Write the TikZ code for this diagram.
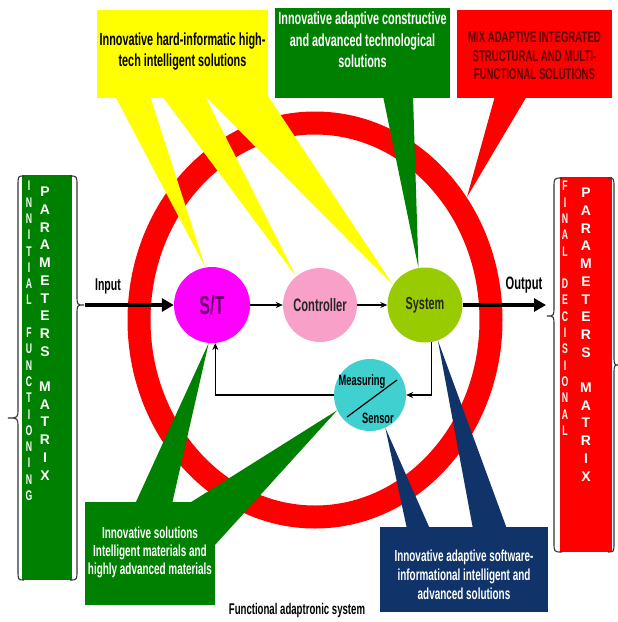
\documentclass[tikz,border=0pt]{standalone}
\usepackage{fontspec}
\setmainfont{Liberation Sans}[FakeStretch=0.62]
\newfontfamily\widefont{Liberation Sans}
\usetikzlibrary{positioning, arrows.meta}
\usepackage{xcolor}
\definecolor{hardyellow}{RGB}{255,255,0}
\definecolor{darkgreen}{RGB}{0,128,0}
\definecolor{mixred}{RGB}{255,0,0}
\definecolor{softnavy}{RGB}{16,52,106}
\definecolor{stmagenta}{RGB}{255,0,255}
\definecolor{ctrlpink}{RGB}{248,160,200}
\definecolor{sysgreen}{RGB}{153,204,0}
\definecolor{sensorcyan}{RGB}{64,208,208}
\definecolor{stpurple}{RGB}{110,0,110}
\definecolor{mixtext}{RGB}{90,0,0}

\begin{document}
\begin{tikzpicture}[x=1pt, y=-1pt,
  blob/.style={circle, inner sep=0pt, text=black!85},
  box/.style={rectangle, inner sep=0pt},
  boxtext/.style={align=center, inner sep=0pt},
  colone/.style={inner sep=0pt, text=white, font=\bfseries\fontsize{14}{14}\selectfont},
  coltwo/.style={inner sep=0pt, text=white, font=\widefont\bfseries\fontsize{14}{14}\selectfont},
  arr/.style={-{Stealth[length=7pt, width=6pt]}, line width=1.3pt},
  bigarr/.style={-{Triangle[length=12pt, width=13pt]}, line width=4pt},
  brace/.style={line width=1.1pt, black!80}
]
\useasboundingbox (0,0) rectangle (618,622);

% Ring
\draw[mixred, line width=23pt] (315,320) ellipse [x radius=176, y radius=197];

% Core Nodes
\node[blob, fill=stmagenta, minimum size=76pt, text=stpurple, font=\bfseries\fontsize{26}{26}\selectfont] (st) at (212,305) {S/T};
\node[blob, fill=ctrlpink, minimum size=74pt, font=\bfseries\fontsize{18}{18}\selectfont] (ctrl) at (320,305) {Controller};
\node[blob, fill=sysgreen, minimum size=75pt, font=\bfseries\fontsize{17.5}{18}\selectfont] (sys) at (425,305) {System};
\node[blob, fill=sensorcyan, minimum size=72pt] (sensor) at (370,395) {};
\coordinate (redtip) at (467,197);

% Callout wedges
\fill[hardyellow] (115,96) -- (150,96) -- (st.100) -- cycle;
\fill[hardyellow] (162,96) -- (205,96) -- (ctrl.130) -- cycle;
\fill[hardyellow] (205,96) -- (268,96) -- (sys.148) -- cycle;
\fill[darkgreen] (383,96) -- (413,96) -- (sys.100) -- cycle;
\fill[mixred] (495,96) -- (527,96) -- (redtip) -- cycle;
\fill[darkgreen] (135,504) -- (172,504) -- (st.265) -- cycle;
\fill[darkgreen] (188,504) -- (215,504) -- (215,545) -- (sensor.205) -- cycle;
\fill[softnavy] (407,529) -- (430,529) -- (sensor.295) -- cycle;
\fill[softnavy] (473,529) -- (507,529) -- (sys.290) -- cycle;

% Boxes
\node[box, fill=hardyellow, minimum width=171pt, minimum height=88pt] (hardbox) at (182.5,54) {};
\node[box, fill=darkgreen, minimum width=175pt, minimum height=90pt] (constrbox) at (362.5,53) {};
\node[box, fill=mixred, minimum width=155pt, minimum height=88pt] (mixbox) at (534.5,54) {};
\node[box, fill=darkgreen, minimum width=130pt, minimum height=103pt] (matbox) at (150,553.5) {};
\node[box, fill=softnavy, minimum width=168pt, minimum height=85pt] (softbox) at (464,569.5) {};
\node[box, fill=darkgreen, minimum width=50pt, minimum height=405pt] (initbox) at (47,377.5) {};
\node[box, fill=mixred, minimum width=52pt, minimum height=375pt] (finalbox) at (586,364.5) {};

\node[boxtext, below=23pt of hardbox.north, font=\bfseries\fontsize{17.5}{21}\selectfont] (hardtext) {Innovative hard-informatic high-\\tech intelligent solutions};
\node[boxtext, below=4pt of constrbox.north, text=white, font=\bfseries\fontsize{17.5}{21.5}\selectfont] (constrtext) {Innovative adaptive constructive\\and advanced technological\\solutions};
\node[boxtext, below=22pt of mixbox.north, text=mixtext, font=\bfseries\fontsize{15.5}{18.5}\selectfont] (mixtext) {MIX ADAPTIVE INTEGRATED\\STRUCTURAL AND MULTI-\\FUNCTIONAL SOLUTIONS};
\node[boxtext, below=25pt of matbox.north, text=white, font=\bfseries\fontsize{16}{18}\selectfont] (mattext) {Innovative solutions\\Intelligent materials and\\highly advanced materials};
\node[boxtext, below=23pt of softbox.north, text=white, font=\bfseries\fontsize{16}{19}\selectfont] (softtext) {Innovative adaptive software-\\informational intelligent and\\advanced solutions};

% Matrix letters
\foreach \c [count=\i from 0] in {I,N,N,I,T,I,A,L,{},F,U,N,C,T,I,O,N,I,N,G}
  \node[colone] (inione\i) at (29,186+\i*16.3) {\c};
\foreach \c [count=\i from 0] in {P,A,R,A,M,E,T,E,R,S,{},M,A,T,R,I,X}
  \node[coltwo] (initwo\i) at (45,192+\i*17.7) {\c};
\foreach \c [count=\i from 0] in {F,I,N,A,L,{},D,E,C,I,S,I,O,N,A,L}
  \node[colone] (finone\i) at (565,186+\i*16.3) {\c};
\foreach \c [count=\i from 0] in {P,A,R,A,M,E,T,E,R,S,{},M,A,T,R,I,X}
  \node[coltwo] (fintwo\i) at (586,193+\i*17.7) {\c};

% Braces
\draw[brace] (24,176) .. controls (18,176) .. (18,186) -- (18,408) .. controls (18,418) .. (8,418) .. controls (18,418) .. (18,428) -- (18,570) .. controls (18,580) .. (24,580);
\draw[brace] (70,176) .. controls (77,176) .. (77,186) -- (77,295) .. controls (77,305) .. (84,305) .. controls (77,305) .. (77,315) -- (77,570) .. controls (77,580) .. (70,580);
\draw[brace] (562,178) .. controls (554,178) .. (554,188) -- (554,306) .. controls (554,316) .. (547,316) .. controls (554,316) .. (554,326) -- (554,542) .. controls (554,552) .. (562,552);
\draw[brace] (608,178) .. controls (614,178) .. (614,188) -- (614,355) .. controls (614,365) .. (619,365) .. controls (614,365) .. (614,375) -- (614,542) .. controls (614,552) .. (608,552);

% Sensor
\draw[line width=1.2pt] ([shift={(-23pt,-22pt)}]sensor.center) -- ([shift={(27pt,15pt)}]sensor.center);
\node[inner sep=0pt, font=\bfseries\fontsize{15}{15}\selectfont] (meas) at ([shift={(-8pt,13pt)}]sensor.center) {Measuring};
\node[inner sep=0pt, font=\bfseries\fontsize{15}{15}\selectfont] (sens) at ([shift={(8pt,-23pt)}]sensor.center) {Sensor};

% Arrows
\coordinate (inpt) at (85,305);
\coordinate (outpt) at (546,305);
\draw[bigarr] (inpt) -- (st.west);
\draw[bigarr] (sys.east) -- (outpt);
\draw[arr] (st) -- (ctrl);
\draw[arr] (ctrl) -- (sys);
\draw[arr] (sys.280) |- (sensor.east);
\draw[arr] (sensor.west) -| (st.275);

% Labels
\node[font=\bfseries\fontsize{17}{17}\selectfont] (inlbl) at (108,286) {Input};
\node[font=\bfseries\fontsize{18}{18}\selectfont] (outlbl) at (524,285) {Output};
\node[font=\bfseries\fontsize{15.5}{16}\selectfont] (caption) at (297,610) {Functional adaptronic system};

\end{tikzpicture}
\end{document}
